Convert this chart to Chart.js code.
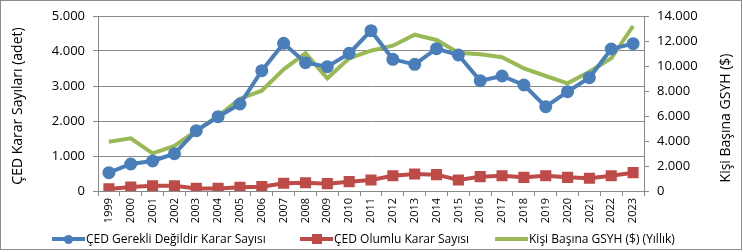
<!DOCTYPE html>
<html>
<head>
<meta charset="utf-8">
<script src="https://cdn.jsdelivr.net/npm/chart.js@4.4.1/dist/chart.umd.min.js"></script>
<style>
    body { margin: 0; background: #fff; }
    #wrap { position: relative; width: 743px; height: 252px; }
    #legend { position: absolute; left: 0; top: 231px; width: 743px; height: 16px;
              font: 12px 'Open Sans', sans-serif; color: #000; }
    .item { position: absolute; top: 0; height: 16px; line-height: 16px; white-space: nowrap; }
    .swatch { position: absolute; top: 6px; height: 4px; }
    .mark { position: absolute; }
</style>
</head>
<body>
<div id="wrap">
    <canvas id="chart" width="743" height="252"></canvas>
    <div id="legend"></div>
</div>
<script>
// Data
const years = ['1999', '2000', '2001', '2002', '2003', '2004', '2005', '2006', '2007', '2008', '2009', '2010',
    '2011', '2012', '2013', '2014', '2015', '2016', '2017', '2018', '2019', '2020', '2021', '2022', '2023'];
const gerekliDegildir = [523, 771, 857, 1066, 1723, 2123, 2486, 3437, 4219, 3667, 3552, 3933,
    4581, 3762, 3619, 4067, 3886, 3152, 3286, 3029, 2410, 2838, 3238, 4057, 4210];
const olumlu = [60, 114, 152, 152, 75, 75, 105, 124, 219, 238, 210, 267,
    314, 438, 486, 467, 314, 410, 438, 390, 438, 390, 362, 438, 524];
const gsyh = [3944, 4216, 3016, 3600, 4824, 6000, 7384, 8024, 9736, 11016, 9016, 10616,
    11224, 11624, 12504, 12080, 11064, 10936, 10696, 9816, 9200, 8616, 9544, 10616, 13200];
const leftTicks = [0, 1000, 2000, 3000, 4000, 5000];
const rightTicks = [0, 2000, 4000, 6000, 8000, 10000, 12000, 14000];

const seriesNames = ['ÇED Gerekli Değildir Karar Sayısı', 'ÇED Olumlu Karar Sayısı', 'Kişi Başına GSYH ($) (Yıllık)'];
const colors = ['#4a7ebb', '#be4b48', '#98b954'];
const gridColor = '#888888';

// Utility: thousands with dots
function fmt(v) {
    return String(v).replace(/\B(?=(\d{3})+(?!\d))/g, '.');
}

// Axis titles + chart frame
const extras = {
    id: 'extras',
    afterDraw(chart) {
        const ctx = chart.ctx;
        ctx.save();
        ctx.fillStyle = '#000';
        ctx.font = "14px 'Open Sans', sans-serif";
        ctx.textAlign = 'center';
        ctx.textBaseline = 'middle';
        ctx.translate(18, 106);
        ctx.rotate(-Math.PI / 2);
        ctx.fillText('ÇED Karar Sayıları (adet)', 0, 0);
        ctx.restore();

        ctx.save();
        ctx.fillStyle = '#000';
        ctx.font = "14px 'Open Sans', sans-serif";
        ctx.textAlign = 'center';
        ctx.textBaseline = 'middle';
        ctx.translate(726, 118);
        ctx.rotate(-Math.PI / 2);
        ctx.fillText('Kişi Başına GSYH ($)', 0, 0);
        ctx.restore();

        ctx.save();
        ctx.strokeStyle = '#8c8c8c';
        ctx.lineWidth = 1;
        ctx.strokeRect(0.5, 0.5, 741, 249);
        ctx.restore();
    }
};

const tickFont = { family: "'Open Sans', sans-serif", size: 13 };

new Chart(document.getElementById('chart'), {
    type: 'line',
    data: {
        labels: years,
        datasets: [{
            label: seriesNames[0],
            data: gerekliDegildir,
            borderColor: colors[0],
            backgroundColor: colors[0],
            borderWidth: 4,
            pointStyle: 'circle',
            pointRadius: 4.5,
            yAxisID: 'y'
        }, {
            label: seriesNames[1],
            data: olumlu,
            borderColor: colors[1],
            backgroundColor: colors[1],
            borderWidth: 4,
            pointStyle: 'rect',
            pointRadius: 5,
            yAxisID: 'y'
        }, {
            label: seriesNames[2],
            data: gsyh,
            borderColor: colors[2],
            backgroundColor: colors[2],
            borderWidth: 4,
            pointRadius: 0,
            yAxisID: 'y1'
        }]
    },
    options: {
        responsive: false,
        animation: false,
        layout: { padding: { top: 16, left: 0, right: 0, bottom: 0 } },
        plugins: {
            legend: { display: false },
            tooltip: { enabled: false }
        },
        elements: { line: { tension: 0 } },
        scales: {
            x: {
                offset: true,
                grid: { offset: true, drawOnChartArea: false, drawTicks: true, tickLength: 5, color: gridColor },
                border: { color: gridColor },
                ticks: { autoSkip: false, minRotation: 90, maxRotation: 90, padding: 2, color: '#000',
                         font: { family: "'Open Sans', sans-serif", size: 11 } },
                afterFit: s => { s.height = 61; }
            },
            y: {
                position: 'left',
                min: 0, max: 5000,
                afterBuildTicks: s => { s.ticks = leftTicks.map(v => ({ value: v })); },
                grid: { color: gridColor, tickLength: 5 },
                border: { color: gridColor },
                ticks: { padding: 8, color: '#000', font: tickFont, callback: v => fmt(v) },
                afterFit: s => { s.width = 98; }
            },
            y1: {
                position: 'right',
                min: 0, max: 14000,
                afterBuildTicks: s => { s.ticks = rightTicks.map(v => ({ value: v })); },
                grid: { drawOnChartArea: false, color: gridColor, tickLength: 5 },
                border: { color: gridColor },
                ticks: { padding: 8, color: '#000', font: tickFont, callback: v => fmt(v) },
                afterFit: s => { s.width = 99; }
            }
        }
    },
    plugins: [extras]
});

// HTML legend: line + marker + text
const legendPos = [52, 300, 495];
const legend = document.getElementById('legend');
seriesNames.forEach((name, i) => {
    const item = document.createElement('div');
    item.className = 'item';
    item.style.left = legendPos[i] + 'px';
    item.style.paddingLeft = '34px';
    let html = `<span class="swatch" style="left:0;width:33px;background:${colors[i]}"></span>`;
    if (i === 0) html += `<span class="mark" style="left:12px;top:4px;width:9px;height:9px;border-radius:50%;background:${colors[i]}"></span>`;
    if (i === 1) html += `<span class="mark" style="left:12px;top:3px;width:10px;height:10px;background:${colors[i]}"></span>`;
    item.innerHTML = html + name;
    legend.appendChild(item);
});
</script>
</body>
</html>
